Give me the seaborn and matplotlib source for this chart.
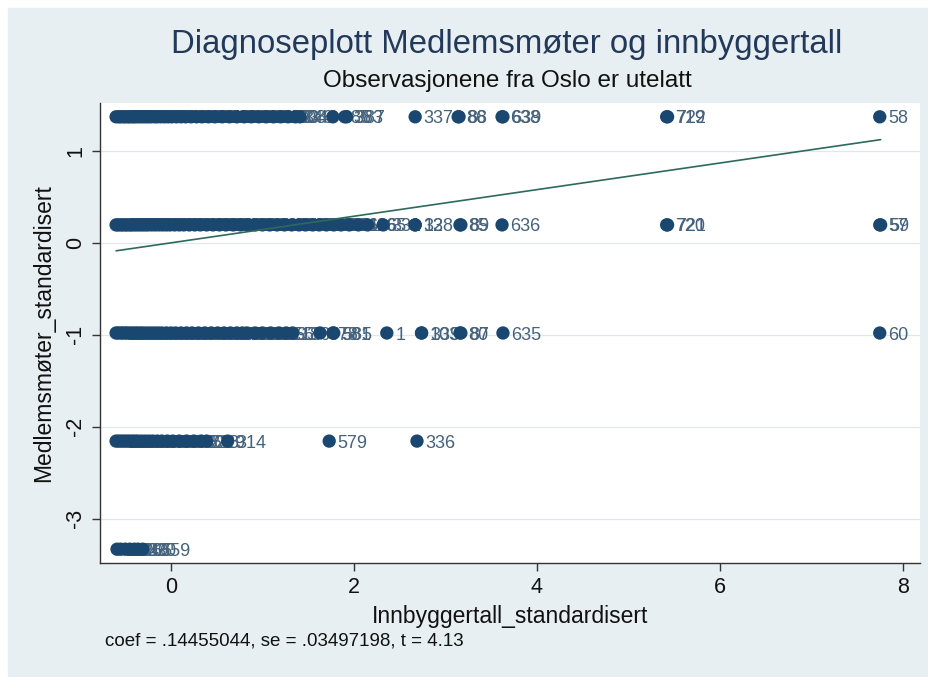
#!/usr/bin/env python

import numpy as np
import pandas as pd
import matplotlib
matplotlib.use('Agg')
import matplotlib.pyplot as plt
from matplotlib.patches import Rectangle
import seaborn as sns

# Added-variable plot: x = innbyggertall (std), one list per level of y
Y_LEVELS = [1.37, 0.195, -0.98, -2.155, -3.33]

X_TOP = [-0.60, -0.57, -0.55, -0.52, -0.50, -0.47, -0.45, -0.42, -0.40, -0.37,
         -0.34, -0.31, -0.28, -0.25, -0.22, -0.18, -0.15, -0.11, -0.07, -0.03,
         0.01, 0.06, 0.11, 0.16, 0.22, 0.28, 0.34, 0.41, 0.48, 0.56,
         0.64, 0.72, 0.80, 0.88, 0.96, 1.04, 1.12, 1.20, 1.28, 1.36,
         1.41, 1.77, 1.90, 1.92, 2.67, 3.14, 3.15, 3.62, 3.63, 5.42,
         5.43, 7.75]
ID_TOP = ['412', '215', '118', '530', '77', '402', '268', '151', '609', '44',
          '390', '227', '503', '19', '611', '278', '130', '455', '62', '318',
          '201', '547', '93', '366', '420', '175', '588', '236', '31', '471',
          '259', '140', '392', '515', '66', '297', '433', '180', '508', '346',
          '348', '385', '383', '387', '337', '86', '88', '638', '639', '719',
          '722', '58']

X_MID = [-0.60, -0.58, -0.55, -0.53, -0.50, -0.48, -0.45, -0.43, -0.40, -0.37,
         -0.34, -0.31, -0.28, -0.25, -0.21, -0.17, -0.13, -0.09, -0.05, -0.01,
         0.04, 0.09, 0.14, 0.20, 0.26, 0.32, 0.39, 0.46, 0.53, 0.60,
         0.68, 0.76, 0.84, 0.92, 1.00, 1.08, 1.16, 1.24, 1.32, 1.40,
         1.47, 1.55, 1.62, 1.70, 1.78, 1.86, 1.95, 2.05, 2.15, 2.32,
         2.67, 2.67, 3.16, 3.17, 3.62, 5.42, 5.43, 7.75, 7.76]
ID_MID = ['420', '119', '563', '78', '302', '245', '614', '38', '187', '529',
          '71', '350', '264', '139', '496', '22', '381', '607', '155', '443',
          '209', '570', '96', '328', '481', '167', '592', '240', '35', '466',
          '253', '146', '399', '511', '69', '290', '438', '184', '517', '341',
          '612', '266', '583', '372', '158', '621', '342', '616', '365', '331',
          '12', '338', '85', '89', '636', '720', '721', '57', '59']

X_LOW = [-0.60, -0.58, -0.55, -0.53, -0.50, -0.48, -0.45, -0.42, -0.39, -0.36,
         -0.33, -0.30, -0.26, -0.22, -0.18, -0.14, -0.10, -0.05, 0.00, 0.05,
         0.11, 0.17, 0.23, 0.30, 0.37, 0.44, 0.51, 0.58, 0.65, 0.72,
         0.78, 0.83, 0.92, 1.00, 1.09, 1.18, 1.26, 1.33, 1.63, 1.77,
         1.78, 2.36, 2.74, 2.74, 3.16, 3.17, 3.63, 7.75]
ID_LOW = ['431', '126', '574', '83', '309', '252', '619', '41', '193', '534',
          '74', '357', '271', '144', '489', '26', '378', '602', '162', '448',
          '214', '565', '99', '335', '476', '171', '597', '247', '28', '462',
          '258', '149', '404', '521', '63', '293', '557', '186', '578', '581',
          '585', '1', '103', '339', '80', '87', '635', '60']

X_LOWER = [-0.60, -0.57, -0.54, -0.51, -0.48, -0.45, -0.42, -0.39, -0.36, -0.32,
           -0.28, -0.24, -0.20, -0.15, -0.10, -0.04, 0.02, 0.09, 0.17, 0.25,
           0.33, 0.39, 0.62, 1.73, 2.69]
ID_LOWER = ['428', '133', '567', '81', '305', '249', '616', '47', '190', '538',
            '79', '361', '274', '142', '492', '24', '386', '605', '160', '451',
            '218', '229', '314', '579', '336']

X_BOTTOM = [-0.59, -0.55, -0.50, -0.45, -0.40, -0.36, -0.31]
ID_BOTTOM = ['211', '544', '92', '320', '165', '330', '1659']

COEF = 0.14455044
SE = 0.03497198
T_VAL = 4.13

TITLE = 'Diagnoseplott Medlemsmøter og innbyggertall'
SUBTITLE = 'Observasjonene fra Oslo er utelatt'
X_LABEL = 'Innbyggertall_standardisert'
Y_LABEL = 'Medlemsmøter_standardisert'

X_TICKS = [0, 2, 4, 6, 8]
Y_TICKS = [-3, -2, -1, 0, 1]

NAVY = '#1a476f'
LABEL_COL = '#45627d'
LINE_COL = '#2e6a5c'
BG = '#e8eff2'


def build_frame():
    groups = [(X_TOP, ID_TOP), (X_MID, ID_MID), (X_LOW, ID_LOW),
              (X_LOWER, ID_LOWER), (X_BOTTOM, ID_BOTTOM)]
    rows = []
    for level, (xs, ids) in zip(Y_LEVELS, groups):
        for x, i in zip(xs, ids):
            rows.append({'x': x, 'y': level, 'id': i})
    return pd.DataFrame(rows)


def stata_num(v, fmt):
    # Stata drops the leading zero: .1445...
    s = fmt % v
    return s[1:] if s.startswith('0.') else s


def main():
    sns.set_style('white')
    plt.rcParams['font.family'] = ['Liberation Sans', 'DejaVu Sans']

    df = build_frame()

    fig = plt.figure(figsize=(9.29, 6.77), dpi=100, facecolor='white')
    fig.patches.append(Rectangle((8 / 929, 0), 1, 1 - 8 / 677,
                                 transform=fig.transFigure, color=BG,
                                 zorder=-10))
    ax = fig.add_axes([100 / 929, 1 - 563 / 677, 820 / 929, 460 / 677])
    ax.set_facecolor('white')

    ax.yaxis.grid(True, color='#dfe8ec', lw=0.9, zorder=0)
    ax.xaxis.grid(False)

    # labels first so that the markers sit on top of them;
    # baseline shifted down by half the digit height to centre on the marker
    lab_size = 13
    for _, r in df.iterrows():
        ax.annotate(r['id'], (r['x'], r['y']),
                    xytext=(6, -0.36 * lab_size),
                    textcoords='offset points', va='baseline', ha='left',
                    fontsize=lab_size, color=LABEL_COL, zorder=2)

    sns.scatterplot(data=df, x='x', y='y', color=NAVY, s=92,
                    edgecolor='none', linewidth=0, ax=ax, zorder=3)

    fit_x = np.array([df['x'].min(), df['x'].max()])
    sns.lineplot(x=fit_x, y=COEF * fit_x, color=LINE_COL, lw=1.2, ax=ax,
                 zorder=4)

    ax.set_xlim(-0.776, 8.19)
    ax.set_ylim(-3.48, 1.52)
    ax.set_xticks(X_TICKS)
    ax.set_yticks(Y_TICKS)
    ax.set_yticklabels([str(v) for v in Y_TICKS], rotation=90, va='center')
    ax.tick_params(axis='both', direction='out', length=6, width=1,
                   color='#333333', labelsize=15.5, labelcolor='#111111',
                   pad=4, left=True, bottom=True)

    for side in ['top', 'right']:
        ax.spines[side].set_visible(False)
    for side in ['left', 'bottom']:
        ax.spines[side].set_color('#333333')
        ax.spines[side].set_linewidth(1)

    ax.set_xlabel(X_LABEL, fontsize=16.5, color='#111111', labelpad=5)
    ax.set_ylabel(Y_LABEL, fontsize=16.5, color='#111111', labelpad=7)

    cx = 507 / 929
    fig.text(cx, 1 - 45 / 677, TITLE, ha='center', va='center',
             fontsize=23.7, color='#22395a')
    fig.text(cx, 1 - 81 / 677, SUBTITLE, ha='center', va='center',
             fontsize=17.5, color='#111111')
    note = 'coef = %s, se = %s, t = %s' % (stata_num(COEF, '%.8f'),
                                           stata_num(SE, '%.8f'),
                                           stata_num(T_VAL, '%.2f'))
    fig.text(105 / 929, 1 - 641 / 677, note,
             ha='left', va='center', fontsize=13.5, color='#111111')

    fig.savefig('out.png', dpi=100, facecolor=fig.get_facecolor())


if __name__ == '__main__':
    main()
